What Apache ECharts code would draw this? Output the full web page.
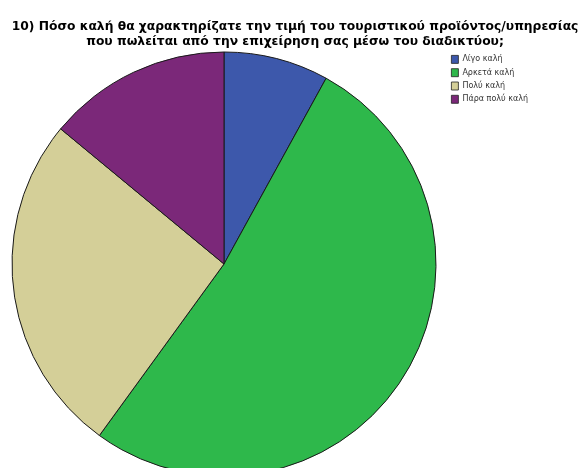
<!DOCTYPE html>
<html>
<head>
<meta charset="utf-8">
<script src="https://cdn.jsdelivr.net/npm/echarts@6/dist/echarts.min.js"></script>
<style>
  html, body { margin: 0; padding: 0; background: #ffffff; }
  #chart { width: 582px; height: 468px; }
</style>
</head>
<body>
<div id="chart"></div>
<script>
// Answer categories and response counts
const categories = ['Λίγο καλή', 'Αρκετά καλή', 'Πολύ καλή', 'Πάρα πολύ καλή'];
const counts = [4, 26, 13, 7];
const colors = ['#3d58ab', '#2eb84b', '#d4cf98', '#7b2879'];

const titleLines = [
  '10) Πόσο καλή θα χαρακτηρίζατε την τιμή του τουριστικού προϊόντος/υπηρεσίας',
  'που πωλείται από την επιχείρηση σας μέσω του διαδικτύου;'
];

const chart = echarts.init(document.getElementById('chart'), null, { renderer: 'canvas' });

chart.setOption({
  animation: false,
  backgroundColor: '#ffffff',
  title: {
    text: titleLines.join('\n'),
    left: 290,
    textAlign: 'center',
    top: 14,
    textStyle: {
      fontFamily: 'DejaVu Sans, sans-serif',
      fontSize: 12.3,
      fontWeight: 'bold',
      color: '#000000',
      lineHeight: 15
    }
  },
  legend: {
    orient: 'vertical',
    left: 446,
    top: 50,
    itemWidth: 7,
    itemHeight: 8,
    itemGap: 4.5,
    icon: 'rect',
    selectedMode: false,
    data: categories,
    itemStyle: { borderColor: '#222222', borderWidth: 0.8 },
    textStyle: {
      fontFamily: 'DejaVu Sans, sans-serif',
      fontSize: 8,
      color: '#333333',
      padding: [0, 0, 0, -1]
    }
  },
  series: [{
    type: 'pie',
    center: [224, 264],
    radius: [0, 212],
    startAngle: 90,
    clockwise: true,
    label: { show: false },
    labelLine: { show: false },
    emphasis: { disabled: true },
    itemStyle: { borderColor: '#1a1a1a', borderWidth: 1 },
    data: categories.map((name, i) => ({
      name: name,
      value: counts[i],
      itemStyle: { color: colors[i] }
    }))
  }]
});
</script>
</body>
</html>
